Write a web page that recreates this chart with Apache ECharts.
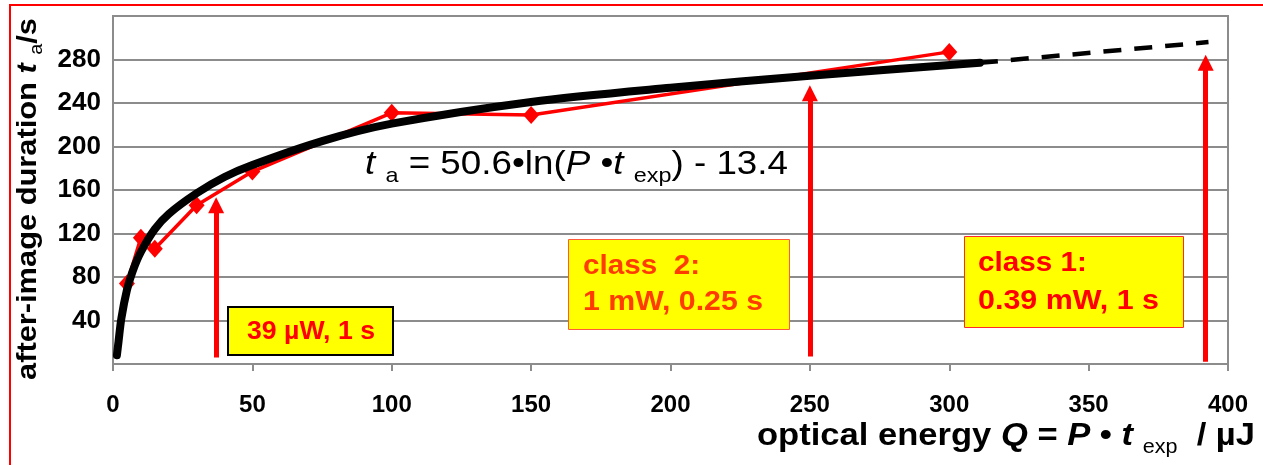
<!DOCTYPE html>
<html><head><meta charset="utf-8">
<script src="https://cdn.jsdelivr.net/npm/echarts@6/dist/echarts.min.js"></script>
<style>html,body{margin:0;padding:0;background:#fff}#c{width:1263px;height:465px}</style>
</head><body><div id="c"></div>
<script>
// measured after-image durations
const measQ = [5, 10, 15, 30, 50, 100, 150, 300];
const measT = [74, 116, 106, 146, 177, 231, 229, 287];
// logarithmic fit curve
const fitQ = [1.4, 2, 3, 5, 7, 10, 15, 20, 30, 40, 50, 75, 100, 150, 200, 250, 311];
const fitT = [8, 21, 42, 68, 85, 103, 124, 138, 157, 172, 183, 205, 221, 241, 254, 265, 277];
// extrapolation (dashed)
const extQ = [311, 393];
const extT = [277, 296];
// class limit arrows
const arrowQ = [37, 250, 392];
const arrowBase = [6, 7, 2];
const arrowTip = [146, 249, 277];
// axes
const xMin = 0, xMax = 400, xStep = 50;
const yMin = 0, yMax = 320, yStep = 40;

const FF = '"Liberation Sans", Arial, sans-serif';
const mctx = document.createElement('canvas').getContext('2d');
function runs(segs, z) {
  let x = 0; const out = [];
  for (const s of segs) {
    const [t, font, dy, fill] = s;
    mctx.font = font;
    const w = mctx.measureText(t).width;
    const fs = parseFloat(font.match(/([\d.]+)px/)[1]);
    out.push({type: 'text', x: x, y: (dy || 0) - 0.3465 * fs, z: z,
      style: {text: t, font: font, fill: fill || '#000', align: 'left', verticalAlign: 'middle'}});
    x += w;
  }
  return {els: out, width: x};
}
function textLine(x, base, segs, target, z, rotation) {
  const r = runs(segs, z);
  const sx = target ? target / r.width : 1;
  return {type: 'group', x: x, y: base, scaleX: sx, rotation: rotation || 0, children: r.els};
}
const chart = echarts.init(document.getElementById('c'), null, {renderer: 'canvas'});
const axisGray = '#8c8c8c';
const eqF = 'normal 33px ' + FF, eqI = 'italic 33px ' + FF, eqS = 'normal 21px ' + FF;
const xtB = 'bold 32px ' + FF, xtI = 'italic bold 32px ' + FF, xtS = 'normal 20px ' + FF;
const ytB = 'bold 28px ' + FF, ytI = 'italic bold 28px ' + FF, ytS = 'normal 18px ' + FF;
const bx = 'bold 28px ' + FF;

const graphics = [
  {type: 'rect', shape: {x: 10, y: 5, width: 1400, height: 600}, style: {fill: 'none', stroke: '#ff0000', lineWidth: 2}, z: 100},
  textLine(365, 176, [
    ['t', eqI], [' ', eqF], ['a', eqS, 7], [' = 50.6\u2022ln(', eqF], ['P', eqI], [' \u2022', eqF], ['t', eqI], [' ', eqF], ['exp', eqS, 7], [') - 13.4', eqF]
  ], 423, 100),
  textLine(757, 447, [
    ['optical energy ', xtB], ['Q', xtI], [' = ', xtB], ['P', xtI], [' \u2022 ', xtB], ['t', xtI], [' ', xtB], ['exp', xtS, 7], ['  / \u00b5J', xtB]
  ], 498, 100),
  textLine(38, 380, [
    ['after-image duration ', ytB], ['t', ytI], [' ', ytB], ['a', ytS, 5], ['/s', ytB]
  ], 362, 100, Math.PI / 2),
  // boxes
  {type: 'rect', shape: {x: 228, y: 307, width: 165, height: 48}, style: {fill: '#ffff00', stroke: '#000', lineWidth: 2}, z: 90},
  textLine(247, 341, [['39 \u00b5W, 1 s', 'bold 26px ' + FF, 0, '#ff0000']], 128, 91),
  {type: 'rect', shape: {x: 568.5, y: 239.5, width: 221, height: 90}, style: {fill: '#ffff00', stroke: '#ff5a3c', lineWidth: 1}, z: 90},
  textLine(583, 276, [['class  2:', bx, 0, '#ff3c00']], 117, 91),
  textLine(583, 312, [['1 mW, 0.25 s', bx, 0, '#ff3c00']], 180, 91),
  {type: 'rect', shape: {x: 964.5, y: 236.5, width: 219, height: 91}, style: {fill: '#ffff00', stroke: '#ff2a2a', lineWidth: 1}, z: 90},
  textLine(978, 273, [['class 1:', bx, 0, '#ff0000']], 109, 91),
  textLine(978, 311, [['0.39 mW, 1 s', bx, 0, '#ff0000']], 181, 91)
];

chart.setOption({
  animation: false,
  backgroundColor: '#fff',
  grid: {left: 113, right: 35, top: 16, bottom: 101, show: true, borderColor: axisGray, borderWidth: 2, backgroundColor: 'transparent'},
  xAxis: {
    type: 'value', min: xMin, max: xMax, interval: xStep,
    axisLine: {show: true, lineStyle: {color: axisGray, width: 2}},
    axisTick: {show: true, length: 7, lineStyle: {color: axisGray, width: 2}},
    splitLine: {show: false},
    axisLabel: {fontSize: 24, fontWeight: 'bold', color: '#000', fontFamily: FF, margin: 29}
  },
  yAxis: {
    type: 'value', min: yMin, max: yMax, interval: yStep,
    axisLine: {show: true, lineStyle: {color: axisGray, width: 2}},
    axisTick: {show: false},
    splitLine: {show: true, lineStyle: {color: axisGray, width: 2}},
    axisLabel: {fontSize: 26, fontWeight: 'bold', color: '#000', fontFamily: FF, margin: 12,
      formatter: v => (v === yMin || v === yMax) ? '' : String(v)}
  },
  series: [
    {type: 'line', name: 'measured', data: measQ.map((q, i) => [q, measT[i]]),
      symbol: 'diamond', symbolSize: [16, 18], lineStyle: {color: '#ff0000', width: 3.5},
      itemStyle: {color: '#ff0000'}, z: 2},
    {type: 'line', name: 'fit', data: fitQ.map((q, i) => [q, fitT[i]]), smooth: 0.3,
      showSymbol: false, symbol: 'none', lineStyle: {color: '#000', width: 8, cap: 'round'}, z: 3},
    {type: 'line', name: 'extrapolation', data: extQ.map((q, i) => [q, extT[i]]),
      showSymbol: false, symbol: 'none', lineStyle: {color: '#000', width: 4.5, type: [18, 13]}, z: 3},
    {type: 'line', name: 'arrows', data: [], z: 4,
      markLine: {silent: true, animation: false, symbol: ['none', 'triangle'], symbolSize: [16, 16],
        label: {show: false}, lineStyle: {color: '#ff0000', width: 5, type: 'solid'},
        data: arrowQ.map((q, i) => [{coord: [q, arrowBase[i]], itemStyle: {color: '#ff0000'}}, {coord: [q, arrowTip[i]], itemStyle: {color: '#ff0000'}}])}}
  ],
  graphic: graphics
});
</script>
</body></html>
